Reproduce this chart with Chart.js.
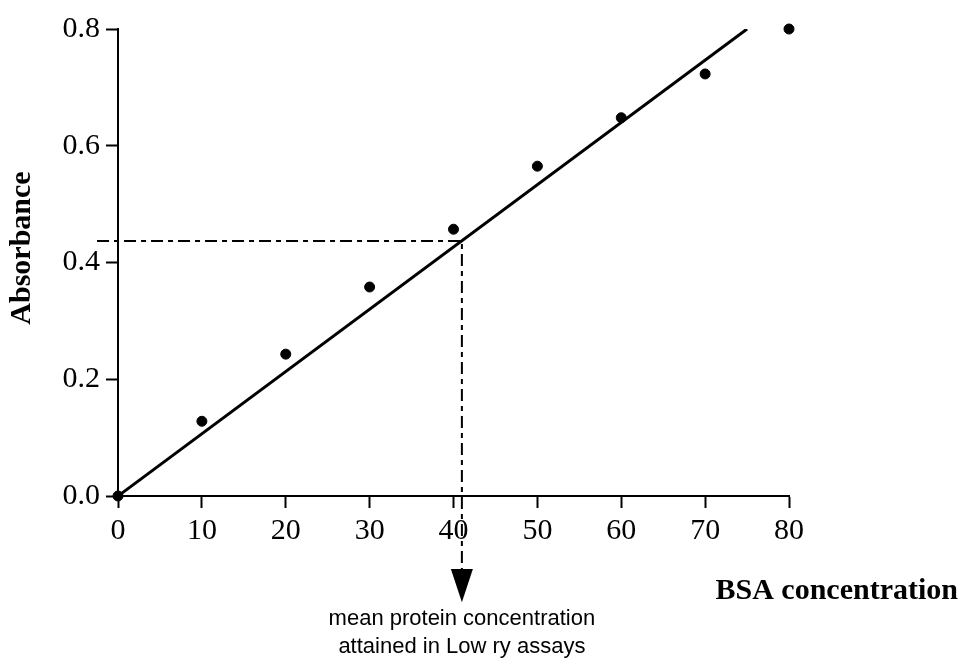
<!DOCTYPE html>
<html>
<head>
<meta charset="utf-8">
<script src="https://cdn.jsdelivr.net/npm/chart.js@4/dist/chart.umd.min.js"></script>
<style>
  html, body { margin: 0; padding: 0; background: #fff; }
  #wrap { width: 964px; height: 667px; position: relative; }
</style>
</head>
<body>
<div id="wrap"><canvas id="chart"></canvas></div>
<script>
const concentration = [0, 10, 20, 30, 40, 50, 60, 70, 80];
const absorbance = [0, 0.128, 0.243, 0.358, 0.457, 0.565, 0.648, 0.723, 0.800];

// fitted line
const fitX = [0, 75];
const fitY = [0, 0.8];

// the dash-dot guide to the mean value
const guideX = [-2.5, 41, 41];
const guideY = [0.437, 0.437, -0.125];
const arrowTop = -0.125;
const arrowTip = -0.182;

const noteLines = ["mean protein concentration", "attained in Low ry assays"];
const xTitle = "BSA concentration";
const yTitle = "Absorbance";

const serif = "'Liberation Serif', 'Times New Roman', serif";

const textPlugin = {
    id: "texts",
    afterDraw(chart) {
        const ctx = chart.ctx;
        const xs = chart.scales.x;
        const ys = chart.scales.y;
        const cx = xs.getPixelForValue(guideX[1]);
        ctx.save();
        ctx.fillStyle = "#000";

        // arrow head under the guide
        const top = ys.getPixelForValue(arrowTop);
        const tip = ys.getPixelForValue(arrowTip);
        ctx.beginPath();
        ctx.moveTo(cx - 11, top);
        ctx.lineTo(cx + 11, top);
        ctx.lineTo(cx, tip);
        ctx.closePath();
        ctx.fill();

        ctx.textAlign = "center";
        ctx.textBaseline = "alphabetic";
        ctx.font = "22px 'Liberation Sans', Arial, sans-serif";
        ctx.fillText(noteLines[0], cx, 625);
        ctx.fillText(noteLines[1], cx, 653);

        ctx.font = "bold 30px " + serif;
        ctx.textAlign = "right";
        ctx.fillText(xTitle, 958, 599);

        ctx.translate(22, 248);
        ctx.rotate(-Math.PI / 2);
        ctx.textAlign = "center";
        ctx.textBaseline = "middle";
        ctx.fillText(yTitle, 0, 0);
        ctx.restore();
    }
};

new Chart(document.getElementById("chart"), {
    type: "scatter",
    data: {
        datasets: [
            {
                label: "samples",
                data: concentration.map((c, i) => ({ x: c, y: absorbance[i] })),
                backgroundColor: "#000",
                borderColor: "#000",
                pointRadius: 5,
                clip: false,
                order: 1
            },
            {
                label: "fit",
                type: "line",
                data: fitX.map((c, i) => ({ x: c, y: fitY[i] })),
                borderColor: "#000",
                borderWidth: 3,
                pointRadius: 0,
                fill: false,
                order: 2
            },
            {
                label: "guide",
                type: "line",
                data: guideX.map((c, i) => ({ x: c, y: guideY[i] })),
                borderColor: "#000",
                borderWidth: 2,
                borderDash: [12, 5, 5, 5],
                pointRadius: 0,
                fill: false,
                clip: false,
                order: 3
            }
        ]
    },
    options: {
        responsive: true,
        maintainAspectRatio: false,
        animation: false,
        layout: { padding: { top: 29, right: 175, left: 0, bottom: 0 } },
        plugins: {
            legend: { display: false },
            tooltip: { enabled: false }
        },
        scales: {
            x: {
                type: "linear",
                min: 0,
                max: 80,
                afterFit: (s) => { s.height = 171; },
                grid: {
                    drawOnChartArea: false,
                    drawTicks: true,
                    tickLength: 12,
                    tickWidth: 2,
                    color: "#000"
                },
                border: { display: true, color: "#000", width: 2 },
                ticks: {
                    stepSize: 10,
                    color: "#000",
                    padding: 5,
                    maxRotation: 0,
                    font: { family: serif, size: 30 }
                }
            },
            y: {
                min: 0,
                max: 0.8,
                afterFit: (s) => { s.width = 118; },
                grid: {
                    drawOnChartArea: false,
                    drawTicks: true,
                    tickLength: 12,
                    tickWidth: 2,
                    color: "#000"
                },
                border: { display: true, color: "#000", width: 2 },
                ticks: {
                    stepSize: 0.2,
                    color: "#000",
                    padding: 6,
                    font: { family: serif, size: 30 },
                    callback: (v) => v.toFixed(1)
                }
            }
        }
    },
    plugins: [textPlugin]
});
</script>
</body>
</html>
